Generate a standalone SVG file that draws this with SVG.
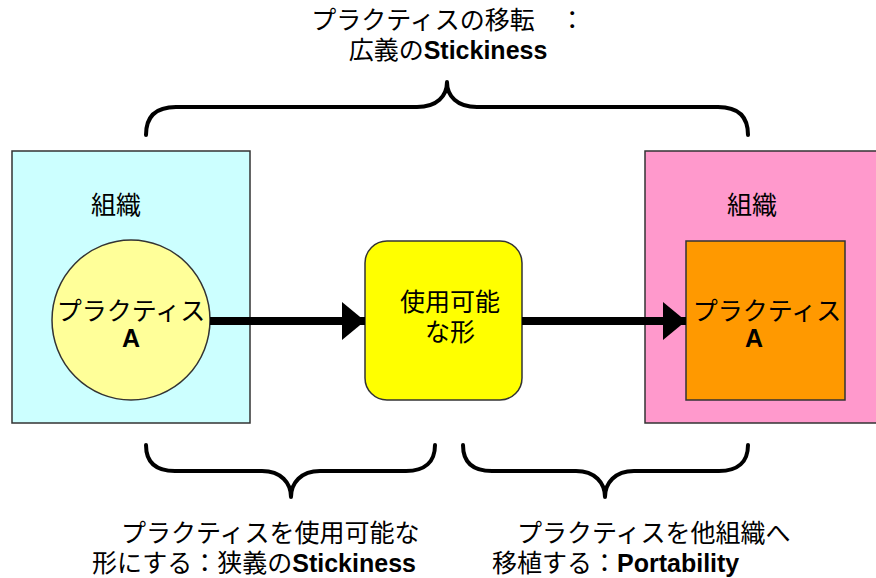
<svg xmlns="http://www.w3.org/2000/svg" width="876" height="578" viewBox="0 0 876 578">
<defs>
<style>
text{font-family:"Liberation Sans","Noto Sans CJK JP",sans-serif;font-size:25px;fill:#000}
.b{font-weight:bold}
.box{stroke:#333;stroke-width:1.5}
.brace{fill:none;stroke:#000;stroke-width:4;stroke-linecap:round;stroke-linejoin:round}
.conn{stroke:#000;stroke-width:8;fill:none}
</style>
<marker id="ah" markerUnits="userSpaceOnUse" markerWidth="24" markerHeight="40" refX="23" refY="19" orient="auto">
<path d="M0,0 L23,19 L0,38 Z" fill="#000"/>
</marker>
</defs>
<rect width="876" height="578" fill="#fff"/>
<g id="title">
<text x="448" y="29" text-anchor="middle">プラクティスの移転　：</text>
<text x="448" y="59" text-anchor="middle">広義の<tspan class="b">Stickiness</tspan></text>
</g>
<g id="org-left">
<rect class="box" x="12" y="151" width="238" height="272" fill="#CCFFFF"/>
<text x="116" y="214" text-anchor="middle">組織</text>
</g>
<g id="practice-a-left">
<ellipse class="box" cx="131" cy="320" rx="79" ry="80" fill="#FFFF99"/>
<text x="131" y="320" text-anchor="middle">プラクティス</text>
<text x="131" y="347" text-anchor="middle" class="b">A</text>
</g>
<g id="usable-form">
<rect class="box" x="365" y="241" width="157" height="159" rx="22" fill="#FFFF00"/>
<text x="450" y="311" text-anchor="middle">使用可能</text>
<text x="450" y="341" text-anchor="middle">な形</text>
</g>
<g id="org-right">
<rect class="box" x="645" y="151" width="240" height="272" fill="#FF99CC"/>
<text x="752" y="214" text-anchor="middle">組織</text>
</g>
<g id="practice-a-right">
<rect class="box" x="686" y="241" width="159" height="159" fill="#FF9900"/>
<text x="767" y="320" text-anchor="middle">プラクティス</text>
<text x="754" y="347" text-anchor="middle" class="b">A</text>
</g>
<g id="connectors">
<line class="conn" x1="210" y1="321" x2="365" y2="321" marker-end="url(#ah)"/>
<line class="conn" x1="522" y1="321" x2="686" y2="321" marker-end="url(#ah)"/>
</g>
<g id="braces">
<path class="brace" d="M146,135 C146,116 156,107 176,107 L417,107 C437,107 447,96 447,82 C447,96 457,107 477,107 L718,107 C738,107 748,116 748,135"/>
<path class="brace" d="M146,445 C146,462 155,471 175,471 L262,471 C281,471 291,483 291,497 C291,483 301,471 320,471 L406,471 C425,471 435,462 435,445"/>
<path class="brace" d="M463,445 C463,462 472,471 492,471 L576,471 C595,471 605,483 605,497 C605,483 615,471 634,471 L719,471 C738,471 748,462 748,445"/>
</g>
<g id="label-left">
<text x="96" y="542">　プラクティスを使用可能な</text>
<text x="92" y="572">形にする：狭義の<tspan class="b">Stickiness</tspan></text>
</g>
<g id="label-right">
<text x="492" y="542">　プラクティスを他組織へ</text>
<text x="492" y="572">移植する：<tspan class="b">Portability</tspan></text>
</g>
</svg>
